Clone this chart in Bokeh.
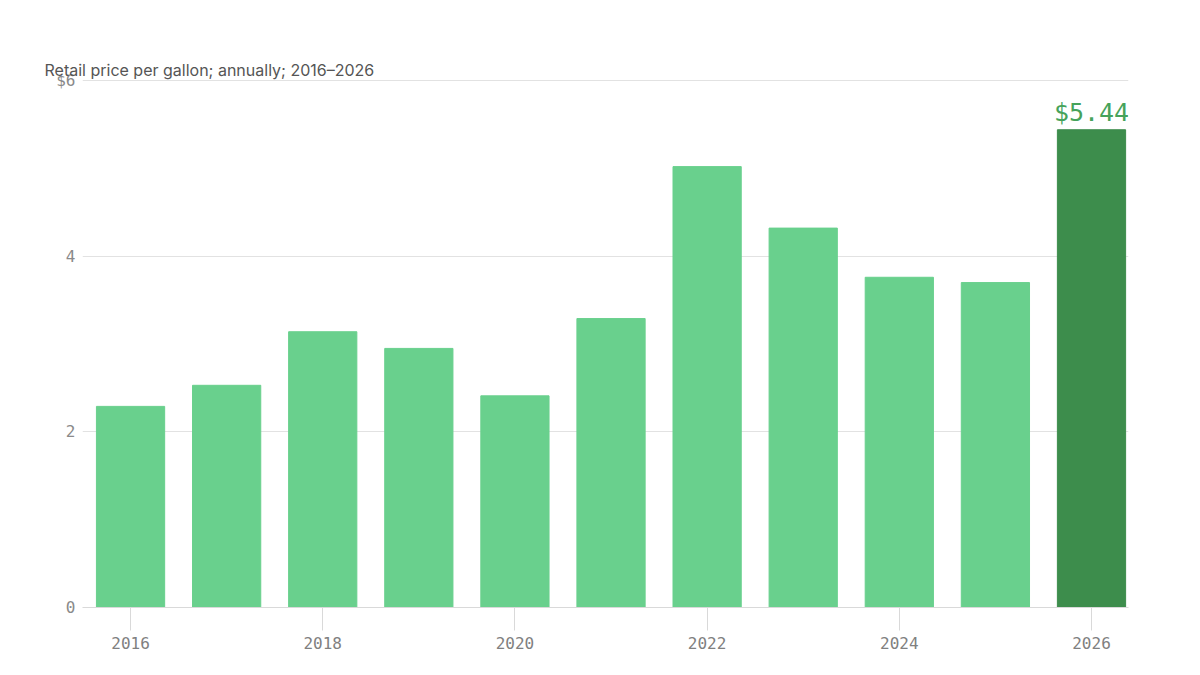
from bokeh.plotting import figure
from bokeh.models import ColumnDataSource, FixedTicker, Range1d, Label, Title
from bokeh.embed import file_html
from bokeh.resources import INLINE

years = [2016, 2017, 2018, 2019, 2020, 2021, 2022, 2023, 2024, 2025, 2026]
prices = [2.29, 2.53, 3.14, 2.95, 2.41, 3.29, 5.02, 4.32, 3.76, 3.70, 5.44]
y_ticks = [0, 2, 4, 6]
y_tick_labels = ["0", "2", "4", "$6"]
x_ticks = [2016, 2018, 2020, 2022, 2024, 2026]
highlight_label = "$5.44"
title_text = "Retail price per gallon; annually; 2016–2026"

LIGHT = "#69d08d"
DARK = "#3d8d4c"
colors = [DARK if y == years[-1] else LIGHT for y in years]

src = ColumnDataSource(dict(x=years, top=prices, color=colors))

p = figure(width=1184, height=659, output_backend="svg", toolbar_location=None,
           title=None,
           x_range=Range1d(2015.5, 2026.385), y_range=Range1d(0, 6.012),
           min_border_left=82, min_border_right=56, min_border_top=79, min_border_bottom=52)

p.vbar(x="x", top="top", width=0.71, color="color", source=src)

mono = "DejaVu Sans Mono"

# invisible spacer title next to the frame, then the real title further out
p.add_layout(Title(text=" ", text_font_size="16px", text_color=None, standoff=21), "above")
p.add_layout(Title(text=title_text, text_font="Inter", text_font_style="normal",
                   text_font_size="16px", text_color="#555555", offset=-38, standoff=0), "above")

p.outline_line_color = None
p.xgrid.grid_line_color = None
p.ygrid.grid_line_color = "#e2e2e2"
p.ygrid.ticker = FixedTicker(ticks=y_ticks)

p.yaxis.ticker = FixedTicker(ticks=y_ticks)
p.yaxis.major_label_overrides = {t: l for t, l in zip(y_ticks, y_tick_labels)}
p.yaxis.axis_line_color = None
p.yaxis.major_tick_line_color = None
p.yaxis.minor_tick_line_color = None
p.yaxis.major_label_text_font = mono
p.yaxis.major_label_text_font_size = "16px"
p.yaxis.major_label_text_color = "#8a8a8a"
p.yaxis.major_label_standoff = 1

p.xaxis.ticker = FixedTicker(ticks=x_ticks)
p.xaxis.axis_line_color = "#d9d9d9"
p.xaxis.major_tick_line_color = "#d9d9d9"
p.xaxis.major_tick_in = 0
p.xaxis.major_tick_out = 23
p.xaxis.minor_tick_line_color = None
p.xaxis.major_label_text_font = mono
p.xaxis.major_label_text_font_size = "16px"
p.xaxis.major_label_text_color = "#808080"
p.xaxis.major_label_standoff = 6

p.add_layout(Label(x=years[-1], y=prices[-1], text=highlight_label, text_align="center",
                   text_baseline="bottom", y_offset=3, text_font=mono,
                   text_font_size="25px", text_color="#46a35b"))

open("out.html", "w").write(file_html(p, INLINE))
